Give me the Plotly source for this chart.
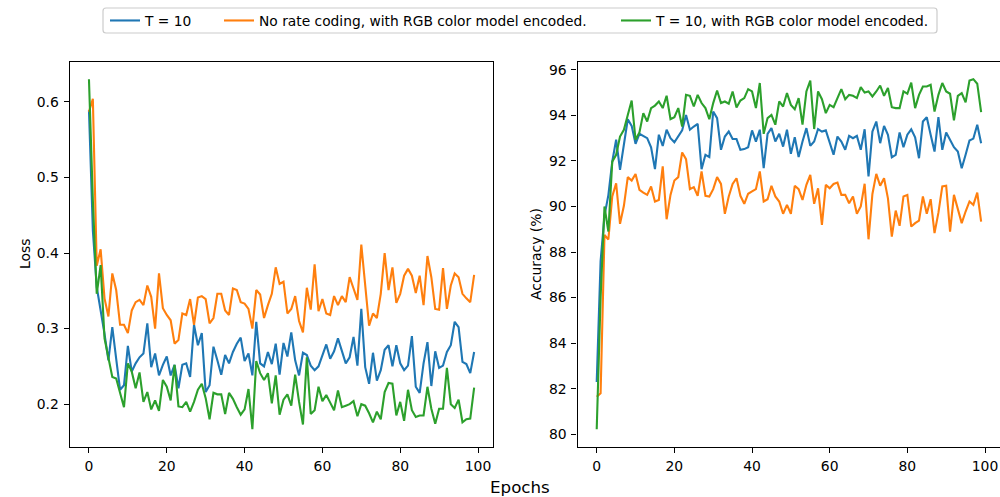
import plotly.graph_objects as go

epochs = list(range(100))

loss_t10 = [0.589, 0.430, 0.355, 0.325, 0.293, 0.258, 0.302, 0.260, 0.219, 0.225,
            0.277, 0.243, 0.254, 0.262, 0.267, 0.307, 0.249, 0.267, 0.238, 0.252,
            0.263, 0.238, 0.252, 0.221, 0.252, 0.254, 0.236, 0.305, 0.278, 0.294,
            0.216, 0.225, 0.276,
            0.258, 0.239, 0.265, 0.254, 0.269, 0.280, 0.288, 0.257, 0.267, 0.238,
            0.309, 0.254, 0.250, 0.269, 0.253, 0.280, 0.239, 0.281, 0.263, 0.295,
            0.258, 0.238, 0.268, 0.265, 0.251, 0.245, 0.250, 0.265, 0.279, 0.260,
            0.270, 0.287, 0.269,
            0.254, 0.262, 0.289, 0.251, 0.326, 0.249, 0.227, 0.268, 0.231, 0.245,
            0.272, 0.278, 0.250, 0.278, 0.254, 0.245, 0.251, 0.290, 0.223, 0.215,
            0.254, 0.282, 0.224, 0.270, 0.248, 0.251, 0.269, 0.278, 0.309, 0.302,
            0.256, 0.253, 0.241, 0.269]

loss_norate = [0.587, 0.604, 0.383, 0.405, 0.340, 0.316, 0.373, 0.351, 0.305, 0.305,
               0.294, 0.324, 0.335, 0.338, 0.331, 0.357, 0.342, 0.300, 0.373, 0.327,
               0.318, 0.311, 0.280, 0.285, 0.320, 0.318, 0.339, 0.305, 0.341, 0.343,
               0.339, 0.307, 0.314,
               0.346, 0.346, 0.324, 0.318, 0.353, 0.351, 0.335, 0.333, 0.326, 0.300,
               0.351, 0.345, 0.314, 0.331, 0.346, 0.381, 0.359, 0.362, 0.320, 0.326,
               0.343, 0.310, 0.295, 0.354, 0.325, 0.385, 0.323, 0.339, 0.320, 0.318,
               0.343, 0.331, 0.343,
               0.335, 0.368, 0.353, 0.338, 0.411, 0.359, 0.304, 0.320, 0.314, 0.346,
               0.400, 0.351, 0.381, 0.334, 0.346, 0.370, 0.379, 0.370, 0.347, 0.370,
               0.331, 0.396, 0.368, 0.326, 0.325, 0.380, 0.326, 0.357, 0.373, 0.368,
               0.346, 0.340, 0.335, 0.371]

loss_rgb = [0.630, 0.470, 0.346, 0.384, 0.287, 0.260, 0.236, 0.234, 0.215, 0.196,
            0.254, 0.243, 0.221, 0.242, 0.203, 0.216, 0.193, 0.205, 0.191, 0.232,
            0.223, 0.205, 0.252, 0.197, 0.196, 0.203, 0.190, 0.203, 0.219, 0.227,
            0.208, 0.180, 0.215,
            0.213, 0.213, 0.187, 0.215, 0.207, 0.196, 0.186, 0.193, 0.220, 0.167,
            0.257, 0.241, 0.232, 0.241, 0.201, 0.238, 0.186, 0.206, 0.213, 0.198,
            0.239, 0.203, 0.173, 0.262, 0.187, 0.192, 0.223, 0.204, 0.212, 0.202,
            0.192, 0.218, 0.196,
            0.198, 0.200, 0.204, 0.184, 0.200, 0.198, 0.188, 0.176, 0.190, 0.180,
            0.216, 0.228, 0.227, 0.185, 0.203, 0.178, 0.219, 0.192, 0.183, 0.185,
            0.185, 0.223, 0.194, 0.174, 0.194, 0.194, 0.248, 0.200, 0.195, 0.206,
            0.176, 0.180, 0.181, 0.222]

acc_t10 = [82.30, 87.60, 89.60, 90.50,
           91.97, 92.93, 91.61, 92.71, 93.83, 93.54, 92.75, 93.19, 93.10, 93.00,
           92.60, 91.64, 93.15, 92.66, 93.37, 93.00, 92.82, 93.07, 93.34, 94.02,
           93.37, 93.51, 93.63, 91.64, 92.27, 92.17, 94.17, 93.88, 92.49,
           93.07, 93.29, 92.96, 92.96, 92.49, 92.52, 92.60, 93.34, 92.85, 93.37,
           91.68, 93.19, 93.44, 92.85, 93.19, 92.63, 93.37, 92.31, 93.04, 92.17,
           92.85, 93.44, 92.66, 92.85, 93.40, 93.29, 93.34, 92.85, 92.27, 93.07,
           92.85, 92.49,
           93.10, 93.00, 93.10, 92.49, 93.39, 91.32, 93.29, 93.73, 92.78, 93.54,
           93.15, 92.16, 92.27,
           93.25, 92.60, 93.15, 93.39, 93.04, 92.12, 93.73, 93.92, 93.15, 92.41,
           93.92, 92.49, 93.25, 92.93, 92.60, 92.41, 91.68, 92.27, 92.90, 92.98,
           93.59, 92.78]

acc_norate = [81.65, 81.80, 88.75, 88.55,
              90.44, 91.02, 89.24, 90.03, 91.29, 91.14, 91.43, 90.73, 90.61, 90.51,
              90.88, 90.22, 90.29, 91.76, 89.44, 90.51, 91.14, 91.29, 92.37, 92.08,
              90.76, 90.85, 90.47, 91.54, 90.47, 90.44, 90.76, 91.29, 90.99,
              89.68, 90.44, 90.99, 91.24, 90.47, 90.12, 90.56, 90.66, 90.76, 91.54,
              90.22, 90.32, 90.91, 90.44, 90.22, 89.68, 90.07, 89.68, 90.91, 90.76,
              90.29, 90.95, 91.39, 90.12, 90.80, 89.19, 90.95, 90.80, 90.99, 91.05,
              90.51, 90.51,
              90.14, 90.44, 89.68, 90.00, 91.00, 88.56, 90.55, 91.43, 90.91, 91.24,
              90.36, 88.68, 89.82, 89.15,
              90.44, 90.51, 89.12, 89.27, 89.38, 90.44, 89.68, 90.32, 88.83, 89.73,
              90.88, 90.91, 88.90, 90.51, 89.88, 89.27, 89.78, 90.22, 90.07, 90.61,
              89.34]

acc_rgb = [80.22, 86.00, 90.00, 88.90,
           91.97, 92.27, 93.07, 93.37, 94.02, 94.65, 92.93, 93.25, 94.10, 93.73,
           94.32, 94.43, 94.61, 94.32, 94.86, 93.83, 93.92, 94.32, 93.51, 94.90,
           94.86, 94.39, 94.90, 94.54, 94.32, 93.83, 94.54, 95.09, 94.54,
           94.61, 94.51, 95.05, 94.35, 94.65, 94.76, 95.15, 95.05, 94.32, 95.42,
           93.19, 93.88, 94.02, 93.59, 94.61, 94.39, 94.98, 94.46, 94.27, 94.76,
           93.59, 95.05, 95.53, 93.40, 95.05, 94.71, 94.10, 94.46, 94.36, 94.76,
           95.15, 94.71,
           94.90, 94.86, 94.76, 95.24, 95.00, 95.05, 94.83, 95.05, 95.31, 94.86,
           95.20, 94.36, 94.32,
           94.32, 95.05, 94.95, 95.44, 94.32, 94.90, 95.27, 95.27, 95.34, 94.17,
           94.90, 95.42, 95.05, 94.95, 93.78, 94.86, 94.98, 94.57, 95.53, 95.59,
           95.39, 94.14]

names = ["T = 10",
         "No rate coding, with RGB color model encoded.",
         "T = 10, with RGB color model encoded."]
colors = ["#1f77b4", "#ff7f0e", "#2ca02c"]
legend_ids = ["legend", "legend2", "legend3"]

W, H = 1000, 497
FONT = "DejaVu Sans"


def px_x(v):
    return v / W


def px_y(v):
    return (H - v) / H


fig = go.Figure()
for name, col, lg, ys in zip(names, colors, legend_ids, [loss_t10, loss_norate, loss_rgb]):
    fig.add_trace(go.Scatter(x=epochs, y=ys, mode="lines", name=name,
                             line=dict(color=col, width=2.1),
                             xaxis="x", yaxis="y", legend=lg, showlegend=True))
for name, col, ys in zip(names, colors, [acc_t10, acc_norate, acc_rgb]):
    fig.add_trace(go.Scatter(x=epochs, y=ys, mode="lines", name=name,
                             line=dict(color=col, width=2.1),
                             xaxis="x2", yaxis="y2", showlegend=False))

axis_common = dict(showgrid=False, zeroline=False, showline=True, linecolor="black",
                   linewidth=1.1, ticks="outside", ticklen=5, tickwidth=1.1,
                   tickcolor="black", tickfont=dict(family=FONT, size=13.9, color="black"),
                   ticklabelstandoff=2)

ydom = [px_y(446.7), px_y(61.5)]

fig.update_layout(
    width=W, height=H,
    margin=dict(l=0, r=0, t=0, b=0),
    paper_bgcolor="white", plot_bgcolor="white",
    font=dict(family=FONT, size=13.9, color="black"),
    xaxis=dict(domain=[px_x(69.7), px_x(493.4)], range=[-4.95, 103.95],
               tickvals=[0, 20, 40, 60, 80, 100], mirror=True, anchor="y", **axis_common),
    yaxis=dict(domain=ydom, range=[0.1437, 0.6534], tickvals=[0.2, 0.3, 0.4, 0.5, 0.6],
               ticktext=["0.2", "0.3", "0.4", "0.5", "0.6"], mirror=True, anchor="x",
               **axis_common),
    xaxis2=dict(domain=[px_x(577.5), 1.0], range=[-4.95, 103.86],
                tickvals=[0, 20, 40, 60, 80, 100], mirror=True, anchor="y2", **axis_common),
    yaxis2=dict(domain=ydom, range=[79.456, 96.365],
                tickvals=[80, 82, 84, 86, 88, 90, 92, 94, 96], mirror=False, anchor="x2",
                **axis_common),
)

leg_common = dict(orientation="h", yanchor="middle", y=px_y(20.5), xanchor="left",
                  bgcolor="rgba(0,0,0,0)", borderwidth=0,
                  font=dict(family=FONT, size=13.8, color="black"))
fig.update_layout(
    legend=dict(x=px_x(105), **leg_common),
    legend2=dict(x=px_x(219), **leg_common),
    legend3=dict(x=px_x(616), **leg_common),
)

# legend frame (rounded rectangle)
x0, x1 = px_x(103), px_x(937)
y0, y1 = px_y(33), px_y(8)
rx, ry = 3 / W, 3 / H
path = (f"M {x0+rx},{y0} L {x1-rx},{y0} Q {x1},{y0} {x1},{y0+ry} "
        f"L {x1},{y1-ry} Q {x1},{y1} {x1-rx},{y1} L {x0+rx},{y1} "
        f"Q {x0},{y1} {x0},{y1-ry} L {x0},{y0+ry} Q {x0},{y0} {x0+rx},{y0} Z")
fig.add_shape(type="path", path=path, xref="paper", yref="paper",
              line=dict(color="#cccccc", width=1.2), fillcolor="rgba(255,255,255,0.8)",
              layer="above")

fig.add_annotation(text="Loss", x=px_x(25), y=px_y(254), xref="paper", yref="paper",
                   textangle=-90, showarrow=False, xanchor="center", yanchor="middle",
                   font=dict(family=FONT, size=13.9, color="black"))
fig.add_annotation(text="Accuracy (%)", x=px_x(536), y=px_y(254), xref="paper", yref="paper",
                   textangle=-90, showarrow=False, xanchor="center", yanchor="middle",
                   font=dict(family=FONT, size=13.9, color="black"))
fig.add_annotation(text="Epochs", x=px_x(519.5), y=px_y(487), xref="paper", yref="paper",
                   showarrow=False, xanchor="center", yanchor="middle",
                   font=dict(family=FONT, size=16.7, color="black"))

fig.write_html("out.html",
               config={"displayModeBar": False},
               post_script="document.body.style.margin='0';"
                           "document.body.style.overflow='hidden';")
